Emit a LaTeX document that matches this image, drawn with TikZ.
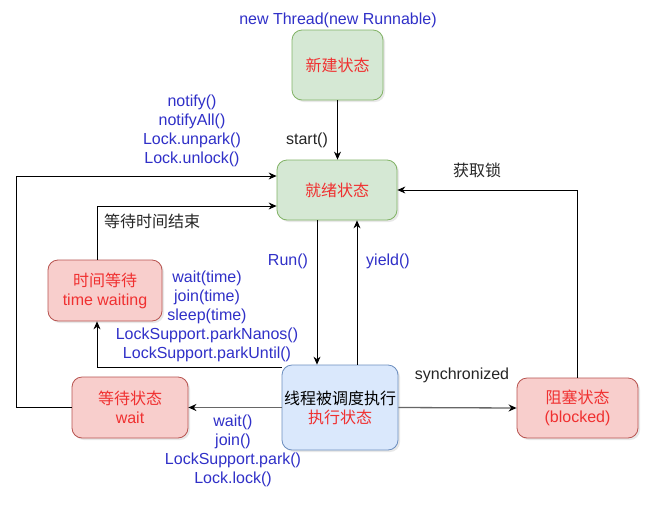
\documentclass[tikz,border=0pt]{standalone}
\usepackage{fontspec}
\setmainfont{Liberation Sans}
\newfontfamily\cjk{Noto Sans CJK SC}
\usetikzlibrary{calc,shadows,arrows.meta}
\definecolor{gfill}{HTML}{D5E8D4}
\definecolor{gline}{HTML}{82B366}
\definecolor{rfill}{HTML}{F8CECC}
\definecolor{rline}{HTML}{B85450}
\definecolor{bfill}{HTML}{DAE8FC}
\definecolor{bline}{HTML}{6C8EBF}
\definecolor{lblue}{HTML}{3030C8}
\definecolor{tred}{HTML}{F03030}
\begin{document}
\begin{tikzpicture}[x=1pt,y=-1pt,
  every node/.style={font=\fontsize{16}{19}\selectfont, inner sep=0pt},
  state/.style={draw, rounded corners=10pt, line width=0.8pt, align=center,
     drop shadow={opacity=0.18, shadow xshift=2pt, shadow yshift=-2pt}},
  green/.style={state, fill=gfill, draw=gline},
  redbox/.style={state, fill=rfill, draw=rline},
  bluebox/.style={state, fill=bfill, draw=bline},
  lbl/.style={text=lblue, align=center},
  blk/.style={text=black!85, align=center},
  arr/.style={draw=black, line width=0.8pt, -{Stealth[length=8pt,width=7pt]}},
  garr/.style={draw=black!60, line width=1.3pt, -{Stealth[length=8pt,width=7pt,color=black]}}
]
\useasboundingbox (0,0) rectangle (659,512);
\fill[white] (0,0) rectangle (659,512);

\node[green, minimum width=91pt, minimum height=70pt, text=tred] (new) at (337.5,65) {\cjk 新建状态};
\node[green, minimum width=120pt, minimum height=60pt, text=tred] (ready) at (337,190) {\cjk 就绪状态};
\node[redbox, minimum width=114pt, minimum height=61pt, text=tred] (timed) at (105,290.5) {\cjk 时间等待\\time waiting};
\node[redbox, minimum width=116pt, minimum height=61pt, text=tred] (wait) at (130,407.5) {\cjk 等待状态\\wait};
\node[bluebox, minimum width=116pt, minimum height=85pt] (run) at (340,407.5) {{\cjk 线程被调度执行}\\\textcolor{tred}{\cjk 执行状态}};
\node[redbox, minimum width=121pt, minimum height=60pt, text=tred] (blocked) at (577.5,408) {\cjk 阻塞状态\\(blocked)};

% connectors
\draw[arr] (new.south) -- (new.south |- ready.north);
\draw[arr] ([xshift=-20pt]ready.south) -- ([xshift=-20pt]ready.south |- run.north);
\draw[arr] ([xshift=17pt]run.north) -- ([xshift=17pt]run.north |- ready.south);
\draw[garr] (run.east) -- (blocked.west);
\draw[arr] (blocked.north) |- (ready.east);
\draw[garr] (run.west) -- (wait.east);
\draw[arr] (wait.west) -- ++(-55,0) |- ($(ready.west)+(0,-14)$);
\draw[arr] ([xshift=-8pt]timed.north) |- ($(ready.west)+(0,16)$);
\draw[arr] ($(run.west)+(0,-40.5)$) -| ([xshift=-8pt]timed.south);

% labels
\node[lbl] (lnew) at (338,20) {new Thread(new Runnable)};
\node[blk] (lstart) at (307,140) {start()};
\node[lbl] (lnotify) at (192,131) {notify()\\notifyAll()\\Lock.unpark()\\Lock.unlock()};
\node[blk] (lget) at (477,170) {\cjk 获取锁};
\node[blk] (lend) at (152,221) {\cjk 等待时间结束};
\node[lbl] (lrun) at (288,261) {Run()};
\node[lbl] (lyield) at (388,261) {yield()};
\node[lbl] (ltime) at (207,316) {wait(time)\\join(time)\\sleep(time)\\LockSupport.parkNanos()\\LockSupport.parkUntil()};
\node[blk] (lsync) at (462,375) {synchronized};
\node[lbl] (lwait) at (233,451) {wait()\\join()\\LockSupport.park()\\Lock.lock()};
\end{tikzpicture}
\end{document}
